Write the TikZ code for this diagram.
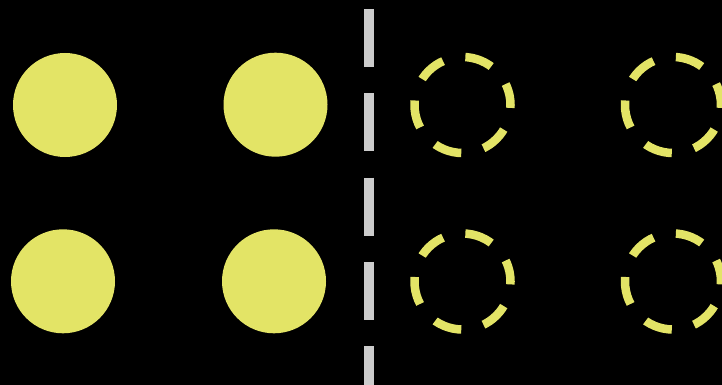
\documentclass[tikz,border=0pt]{standalone}
\definecolor{dotyellow}{RGB}{227,228,102}
\definecolor{divgray}{RGB}{204,204,204}
\tikzset{
  fullball/.style={fill=dotyellow},
  emptyball/.style={draw=dotyellow, line width=8.5pt, dash pattern=on 27.9pt off 22.9pt, dash phase=25pt},
  divider/.style={draw=divgray, line width=10pt, dash pattern=on 58pt off 26.25pt}
}
\begin{document}
\begin{tikzpicture}[x=1pt,y=-1pt]
  \fill[black] (0,0) rectangle (722,385);
  \useasboundingbox (0,0) rectangle (722,385);
  % filled circles
  \fill[fullball] (65,105) circle (52);
  \fill[fullball] (275.5,104.7) circle (52);
  \fill[fullball] (63,281.3) circle (52);
  \fill[fullball] (274,281.3) circle (52);
  % divider
  \coordinate (dtop) at (369,9);
  \coordinate (dbot) at (369,395);
  \draw[divider] (dtop) -- (dbot);
  % dashed circles
  \draw[emptyball] (462.5,105) circle (48);
  \draw[emptyball] (673,105) circle (48);
  \draw[emptyball] (462.5,281.5) circle (48);
  \draw[emptyball] (673,281.5) circle (48);
\end{tikzpicture}
\end{document}
